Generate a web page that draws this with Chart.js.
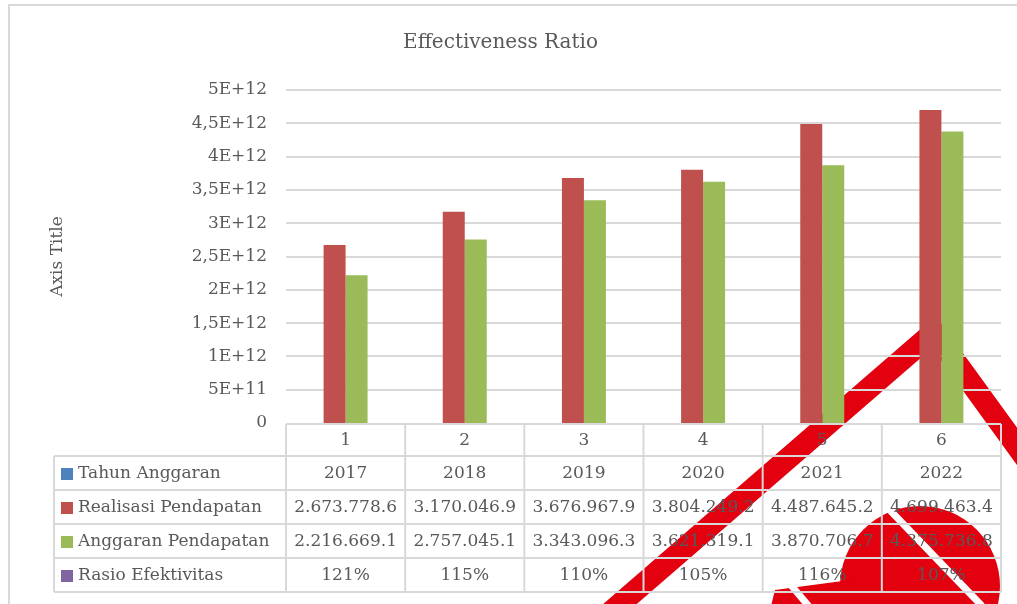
<!DOCTYPE html>
<html lang="id">
<head>
    <meta charset="UTF-8">
    <title>Effectiveness Ratio</title>
    <script src="https://cdn.jsdelivr.net/npm/chart.js"></script>
    <style>
        body {
            margin: 0;
            padding: 0;
            background: #ffffff;
            overflow: hidden;
        }

        .wrap {
            position: relative;
            width: 1040px;
            height: 604px;
        }
    </style>
</head>
<body>
    <div class="wrap">
        <canvas id="ratioChart"></canvas>
    </div>

    <script>
        const categories = ["1", "2", "3", "4", "5", "6"];
        const tahunAnggaran = [2017, 2018, 2019, 2020, 2021, 2022];
        const realisasiPendapatan = [2673778600000, 3170046900000, 3676967900000, 3804249200000, 4487645200000, 4699463400000];
        const anggaranPendapatan = [2216669100000, 2757045100000, 3343096300000, 3621319100000, 3870706700000, 4375736800000];
        const rasioEfektivitas = [1.21, 1.15, 1.10, 1.05, 1.16, 1.07];
        const yTickLabels = ["0", "5E+11", "1E+12", "1,5E+12", "2E+12", "2,5E+12", "3E+12", "3,5E+12", "4E+12", "4,5E+12", "5E+12"];

        const TEXT = "#595959";
        const LINE = "#d9d9d9";
        const FONT = '"DejaVu Serif", serif';

        // big numbers are cut off by the narrow cells, like in the sheet
        function money(v) {
            return String(v).replace(/\B(?=(\d{3})+(?!\d))/g, ".").slice(0, 11);
        }

        const tableRows = [
            { label: "Tahun Anggaran", color: "#4f81bd", cells: tahunAnggaran.map(String) },
            { label: "Realisasi Pendapatan", color: "#c0504d", cells: realisasiPendapatan.map(money) },
            { label: "Anggaran Pendapatan", color: "#9bbb59", cells: anggaranPendapatan.map(money) },
            { label: "Rasio Efektivitas", color: "#8064a2", cells: rasioEfektivitas.map(v => Math.round(v * 100) + "%") },
        ];

        // frame + the red stamp that sits behind everything
        const stampPlugin = {
            id: "stamp",
            beforeDraw(chart) {
                const ctx = chart.ctx;
                ctx.save();
                ctx.strokeStyle = LINE;
                ctx.lineWidth = 2;
                ctx.strokeRect(9, 5, chart.width + 40, chart.height + 40);

                ctx.strokeStyle = "#e3000f";
                ctx.fillStyle = "#e3000f";
                ctx.lineWidth = 22;
                ctx.lineJoin = "miter";
                ctx.beginPath();
                ctx.moveTo(590, 630);
                ctx.lineTo(934, 332);
                ctx.lineTo(1056, 500);
                ctx.stroke();

                ctx.beginPath();
                ctx.arc(920, 586, 80, 0, Math.PI * 2);
                ctx.fill();
                ctx.beginPath();
                ctx.moveTo(775, 590);
                ctx.lineTo(850, 580);
                ctx.lineTo(860, 610);
                ctx.lineTo(770, 610);
                ctx.fill();

                ctx.strokeStyle = "#ffffff";
                ctx.lineWidth = 7;
                ctx.beginPath();
                ctx.moveTo(884, 504);
                ctx.lineTo(982, 606);
                ctx.stroke();
                ctx.beginPath();
                ctx.moveTo(790, 584);
                ctx.lineTo(812, 610);
                ctx.stroke();
                ctx.restore();
            },
        };

        // Excel style data table under the plot
        const tablePlugin = {
            id: "dataTable",
            afterDraw(chart) {
                const { ctx, chartArea: area, scales: { x } } = chart;
                const colW = (area.right - area.left) / categories.length;
                const top = area.bottom + 1;
                const headH = 32;
                const rowH = 34;
                const labelLeft = 54;
                const bottom = top + headH + rowH * tableRows.length;

                ctx.save();
                ctx.strokeStyle = LINE;
                ctx.lineWidth = 2;
                ctx.beginPath();
                ctx.moveTo(area.left, top);
                ctx.lineTo(area.right, top);
                for (let r = 0; r <= tableRows.length; r++) {
                    const y = top + headH + r * rowH;
                    ctx.moveTo(labelLeft, y);
                    ctx.lineTo(area.right, y);
                }
                for (let c = 0; c <= categories.length; c++) {
                    const xx = area.left + c * colW;
                    ctx.moveTo(xx, top);
                    ctx.lineTo(xx, bottom);
                }
                ctx.moveTo(labelLeft, top + headH);
                ctx.lineTo(labelLeft, bottom);
                ctx.stroke();

                ctx.font = "17px " + FONT;
                ctx.fillStyle = TEXT;
                ctx.textAlign = "center";
                ctx.textBaseline = "middle";
                categories.forEach((cat, i) => {
                    ctx.fillText(cat, x.getPixelForValue(i), top + headH / 2 + 1);
                });

                tableRows.forEach((row, r) => {
                    const cy = top + headH + r * rowH + rowH / 2 + 1;
                    ctx.fillStyle = row.color;
                    ctx.fillRect(61, cy - 6, 12, 12);
                    ctx.fillStyle = TEXT;
                    ctx.textAlign = "left";
                    ctx.fillText(row.label, 78, cy);
                    ctx.textAlign = "center";
                    row.cells.forEach((txt, i) => {
                        ctx.fillText(txt, x.getPixelForValue(i), cy);
                    });
                });
                ctx.restore();
            },
        };

        const barData = {
            labels: categories,
            datasets: [
                { label: "Tahun Anggaran", data: tahunAnggaran, backgroundColor: "#4f81bd" },
                { label: "Realisasi Pendapatan", data: realisasiPendapatan, backgroundColor: "#c0504d" },
                { label: "Anggaran Pendapatan", data: anggaranPendapatan, backgroundColor: "#9bbb59" },
                { label: "Rasio Efektivitas", data: rasioEfektivitas, backgroundColor: "#8064a2" },
            ],
        };

        const config = {
            type: "bar",
            data: barData,
            options: {
                responsive: true,
                maintainAspectRatio: false,
                animation: false,
                layout: {
                    padding: { left: 0, right: 39, top: 0, bottom: 181 },
                },
                datasets: {
                    bar: {
                        barPercentage: 1,
                        categoryPercentage: 0.738,
                        inflateAmount: 0,
                    },
                },
                plugins: {
                    legend: { display: false },
                    tooltip: { enabled: false },
                    title: {
                        display: true,
                        text: "Effectiveness Ratio",
                        color: TEXT,
                        font: { family: FONT, size: 20, weight: "normal" },
                        padding: { top: 31, bottom: 35 },
                    },
                },
                scales: {
                    x: {
                        display: false,
                    },
                    y: {
                        min: 0,
                        max: 5e12,
                        border: { display: false },
                        grid: {
                            color: LINE,
                            // the zero line is the top edge of the table, drawn there
                            lineWidth: c => (c.tick && c.tick.value === 0 ? 0 : 2),
                            drawTicks: false,
                        },
                        ticks: {
                            stepSize: 5e11,
                            padding: 19,
                            color: TEXT,
                            font: { family: FONT, size: 17 },
                            callback: (value, index) => yTickLabels[index],
                        },
                        title: {
                            display: true,
                            text: "Axis Title",
                            color: TEXT,
                            font: { family: FONT, size: 17 },
                            padding: { top: 47, bottom: 0 },
                        },
                        afterFit(scale) {
                            scale.width = 286;
                        },
                    },
                },
            },
            plugins: [stampPlugin, tablePlugin],
        };

        const ctx = document.getElementById("ratioChart").getContext("2d");
        const ratioChart = new Chart(ctx, config);
    </script>
</body>
</html>
